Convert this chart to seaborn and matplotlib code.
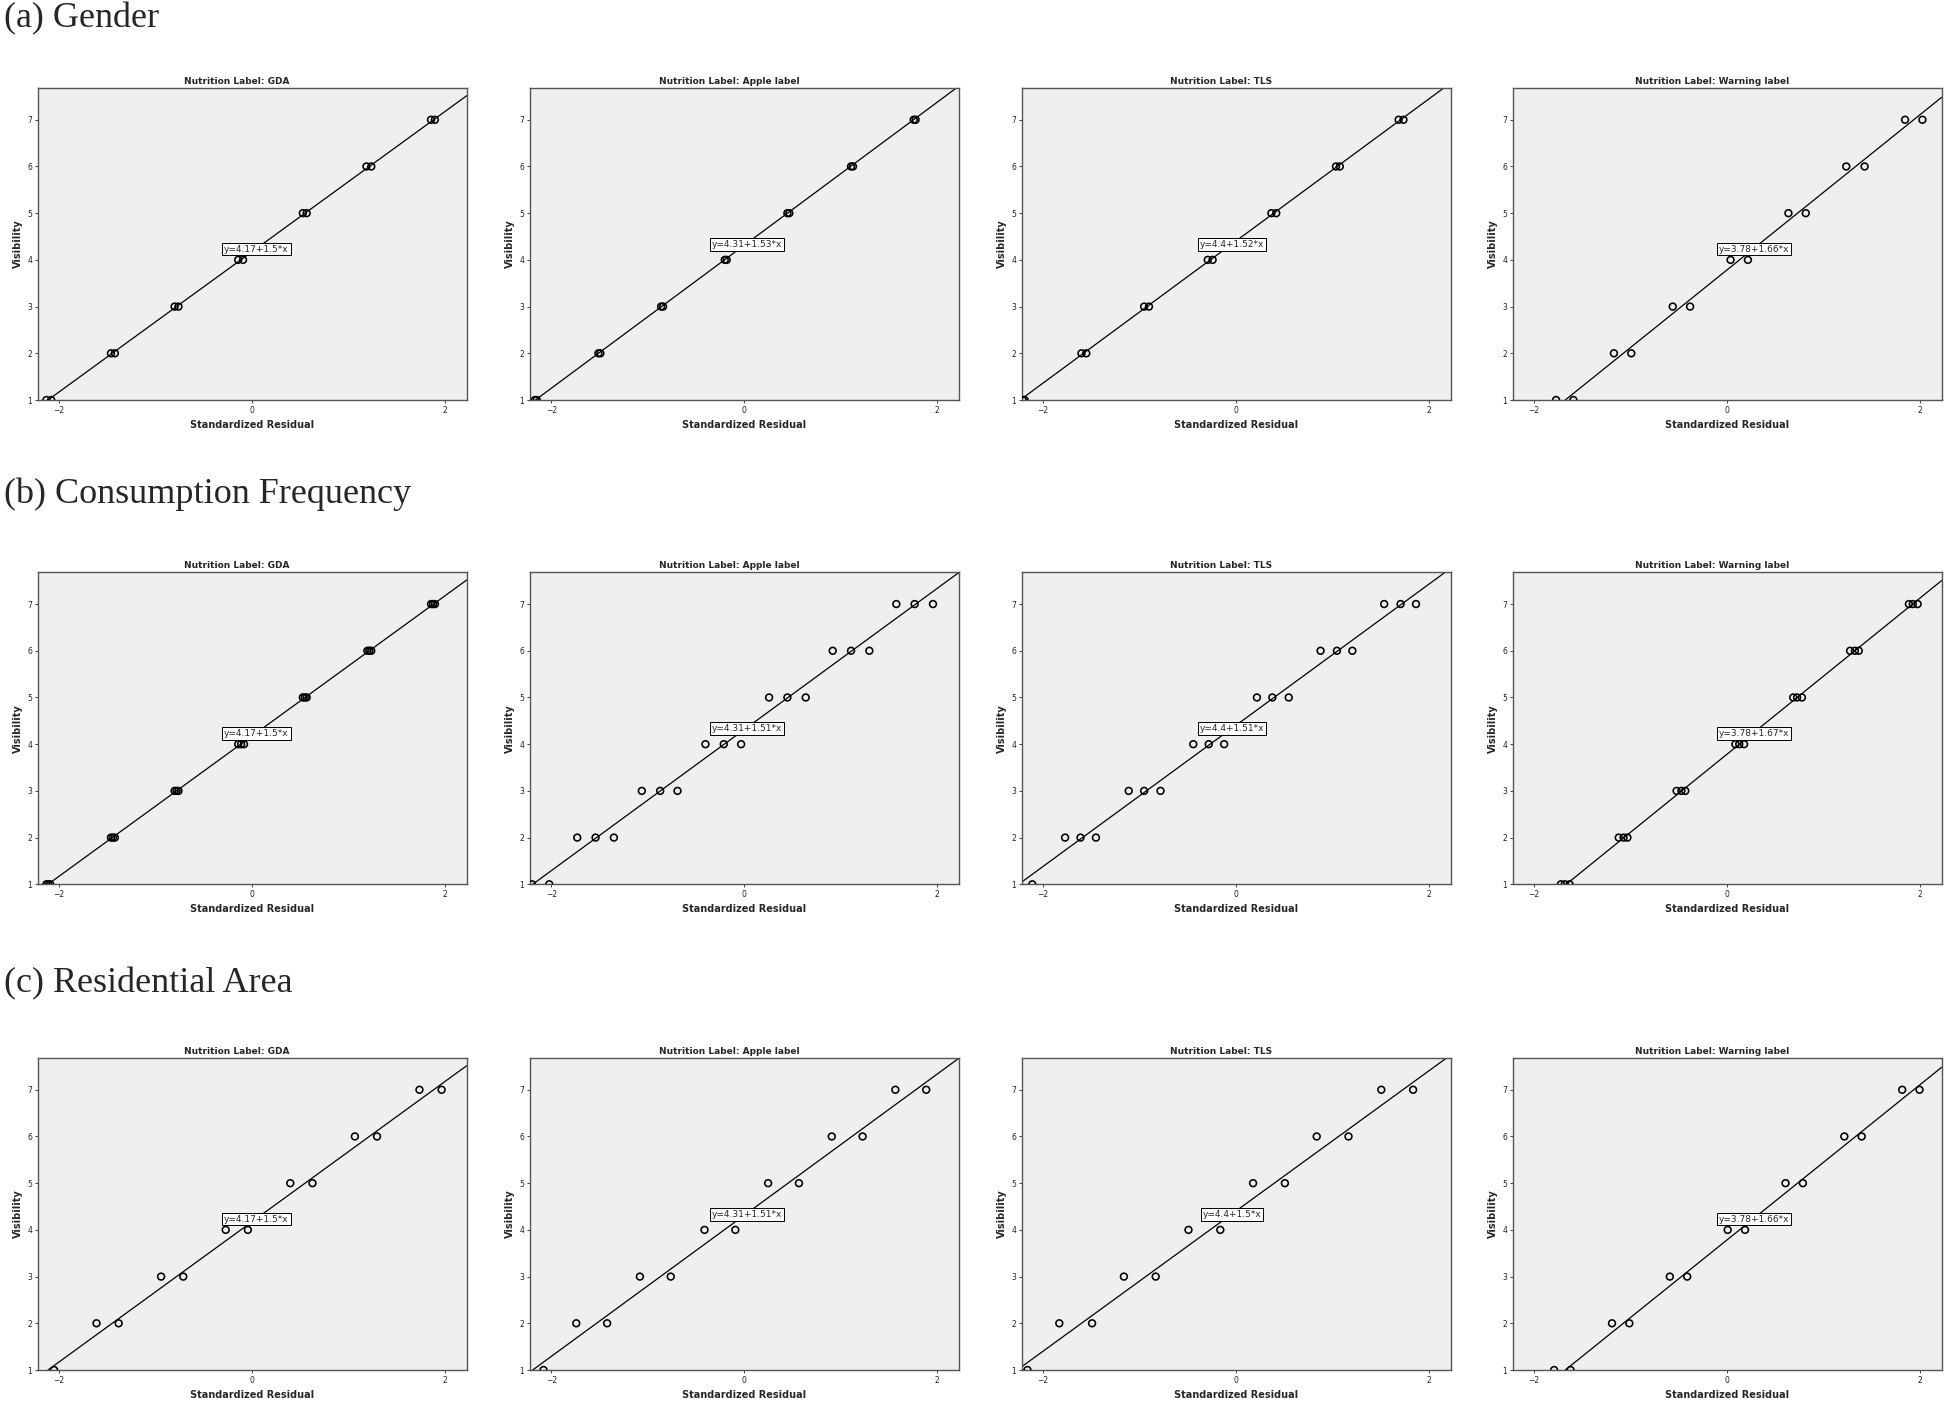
import pandas as pd
import matplotlib
matplotlib.use("Agg")
import matplotlib.pyplot as plt
import seaborn as sns

sns.set_style("white")
plt.rcParams['font.family'] = ['DejaVu Sans']

# Panel labels and section titles
labels = ["GDA", "Apple label", "TLS", "Warning label"]
sections = ["(a) Gender", "(b) Consumption Frequency", "(c) Residential Area"]

# (a) Gender: standardized residual (x) and visibility (y)
a_gda_x = [-2.13, -2.08, -1.46, -1.42, -0.80, -0.76, -0.14, -0.09, 0.53, 0.57, 1.19, 1.24, 1.86, 1.90]
a_gda_y = [1, 1, 2, 2, 3, 3, 4, 4, 5, 5, 6, 6, 7, 7]
a_apple_x = [-2.17, -2.15, -1.51, -1.49, -0.86, -0.84, -0.20, -0.18, 0.45, 0.47, 1.11, 1.13, 1.76, 1.78]
a_apple_y = [1, 1, 2, 2, 3, 3, 4, 4, 5, 5, 6, 6, 7, 7]
a_tls_x = [-2.21, -2.19, -1.60, -1.55, -0.95, -0.90, -0.29, -0.24, 0.37, 0.42, 1.04, 1.08, 1.69, 1.74]
a_tls_y = [1, 1, 2, 2, 3, 3, 4, 4, 5, 5, 6, 6, 7, 7]
a_warn_x = [-1.77, -1.59, -1.17, -0.99, -0.56, -0.38, 0.04, 0.22, 0.64, 0.82, 1.24, 1.43, 1.85, 2.03]
a_warn_y = [1, 1, 2, 2, 3, 3, 4, 4, 5, 5, 6, 6, 7, 7]
a_eq = ["y=4.17+1.5*x", "y=4.31+1.53*x", "y=4.4+1.52*x", "y=3.78+1.66*x"]
a_intercept = [4.17, 4.31, 4.4, 3.78]
a_slope = [1.5, 1.53, 1.52, 1.66]

# (b) Consumption Frequency
b_gda_x = [-2.13, -2.11, -2.09, -1.46, -1.44, -1.42, -0.80, -0.78, -0.76, -0.14, -0.11, -0.08,
           0.53, 0.55, 0.57, 1.20, 1.22, 1.24, 1.86, 1.88, 1.90]
b_gda_y = [1, 1, 1, 2, 2, 2, 3, 3, 3, 4, 4, 4, 5, 5, 5, 6, 6, 6, 7, 7, 7]
b_apple_x = [-2.20, -2.02, -1.73, -1.54, -1.35, -1.06, -0.87, -0.69, -0.40, -0.21, -0.03,
             0.26, 0.45, 0.64, 0.92, 1.11, 1.30, 1.58, 1.77, 1.96]
b_apple_y = [1, 1, 2, 2, 2, 3, 3, 3, 4, 4, 4, 5, 5, 5, 6, 6, 6, 7, 7, 7]
b_tls_x = [-2.11, -1.77, -1.61, -1.45, -1.11, -0.95, -0.78, -0.44, -0.28, -0.12,
           0.22, 0.38, 0.55, 0.88, 1.05, 1.21, 1.54, 1.71, 1.87]
b_tls_y = [1, 2, 2, 2, 3, 3, 3, 4, 4, 4, 5, 5, 5, 6, 6, 6, 7, 7, 7]
b_warn_x = [-1.72, -1.68, -1.63, -1.12, -1.07, -1.03, -0.52, -0.47, -0.43, 0.09, 0.13, 0.18,
            0.69, 0.73, 0.78, 1.28, 1.33, 1.37, 1.89, 1.93, 1.98]
b_warn_y = [1, 1, 1, 2, 2, 2, 3, 3, 3, 4, 4, 4, 5, 5, 5, 6, 6, 6, 7, 7, 7]
b_eq = ["y=4.17+1.5*x", "y=4.31+1.51*x", "y=4.4+1.51*x", "y=3.78+1.67*x"]
b_intercept = [4.17, 4.31, 4.4, 3.78]
b_slope = [1.5, 1.51, 1.51, 1.67]

# (c) Residential Area
c_gda_x = [-2.05, -1.61, -1.38, -0.94, -0.71, -0.27, -0.04, 0.40, 0.63, 1.07, 1.30, 1.74, 1.97]
c_gda_y = [1, 2, 2, 3, 3, 4, 4, 5, 5, 6, 6, 7, 7]
c_apple_x = [-2.08, -1.74, -1.42, -1.08, -0.76, -0.41, -0.09, 0.25, 0.57, 0.91, 1.23, 1.57, 1.89]
c_apple_y = [1, 2, 2, 3, 3, 4, 4, 5, 5, 6, 6, 7, 7]
c_tls_x = [-2.16, -1.83, -1.49, -1.16, -0.83, -0.49, -0.16, 0.18, 0.51, 0.84, 1.17, 1.51, 1.84]
c_tls_y = [1, 2, 2, 3, 3, 4, 4, 5, 5, 6, 6, 7, 7]
c_warn_x = [-1.79, -1.62, -1.19, -1.01, -0.59, -0.41, 0.01, 0.19, 0.61, 0.79, 1.22, 1.40, 1.82, 2.00]
c_warn_y = [1, 1, 2, 2, 3, 3, 4, 4, 5, 5, 6, 6, 7, 7]
c_eq = ["y=4.17+1.5*x", "y=4.31+1.51*x", "y=4.4+1.5*x", "y=3.78+1.66*x"]
c_intercept = [4.17, 4.31, 4.4, 3.78]
c_slope = [1.5, 1.51, 1.5, 1.66]

rows = [
    ([(a_gda_x, a_gda_y), (a_apple_x, a_apple_y), (a_tls_x, a_tls_y), (a_warn_x, a_warn_y)],
     a_eq, a_intercept, a_slope),
    ([(b_gda_x, b_gda_y), (b_apple_x, b_apple_y), (b_tls_x, b_tls_y), (b_warn_x, b_warn_y)],
     b_eq, b_intercept, b_slope),
    ([(c_gda_x, c_gda_y), (c_apple_x, c_apple_y), (c_tls_x, c_tls_y), (c_warn_x, c_warn_y)],
     c_eq, c_intercept, c_slope),
]

# layout (pixels) and equation box anchors
W, H = 1944, 1405
col_left = [37.7, 530, 1021.7, 1512.7]
row_bottom = [400, 884.3, 1370]
ax_w, ax_h = 429, 312
section_y = [19, 494, 984]
eq_pos = [(0.05, 4.23), (0.03, 4.33), (-0.04, 4.33), (0.28, 4.23)]

fig = plt.figure(figsize=(W / 100, H / 100), dpi=100)

for r, (panels, eqs, intercepts, slopes) in enumerate(rows):
    fig.text(0.002, 1 - section_y[r] / H, sections[r], family='Liberation Serif',
             fontsize=26, va='center', ha='left')
    for c, (xs, ys) in enumerate(panels):
        ax = fig.add_axes([col_left[c] / W, 1 - row_bottom[r] / H, ax_w / W, ax_h / H])
        ax.set_facecolor('#efefef')
        df = pd.DataFrame({'Standardized Residual': xs, 'Visibility': ys})
        ax.axline((0, intercepts[c]), slope=slopes[c], color='black', lw=0.9, zorder=2)
        sns.scatterplot(data=df, x='Standardized Residual', y='Visibility', ax=ax,
                        marker='o', s=24, facecolor='none', edgecolor='black',
                        linewidth=1.15, zorder=3)
        ax.set_xlim(-2.22, 2.23)
        ax.set_ylim(1, 7.68)
        ax.set_xticks([-2, 0, 2])
        ax.set_yticks([1, 2, 3, 4, 5, 6, 7])
        ax.tick_params(axis='both', labelsize=5.5, length=2.5, width=0.6,
                       pad=1.5, colors='#222222', direction='out')
        ax.tick_params(left=True, bottom=True)
        for sp in ax.spines.values():
            sp.set_color('#555555')
            sp.set_linewidth(1.0)
        ax.set_title('Nutrition Label: ' + labels[c], fontsize=6.5, fontweight='bold',
                     pad=3, x=0.465)
        ax.set_xlabel('Standardized Residual', fontsize=7, fontweight='bold', labelpad=4)
        ax.set_ylabel('Visibility', fontsize=7, fontweight='bold', labelpad=3)
        ex, ey = eq_pos[c]
        ax.text(ex, ey, eqs[c], fontsize=6.5, ha='center', va='center', zorder=4,
                bbox=dict(boxstyle='square,pad=0.2', facecolor='white',
                          edgecolor='black', linewidth=0.7))

fig.savefig('out.png', dpi=100)
